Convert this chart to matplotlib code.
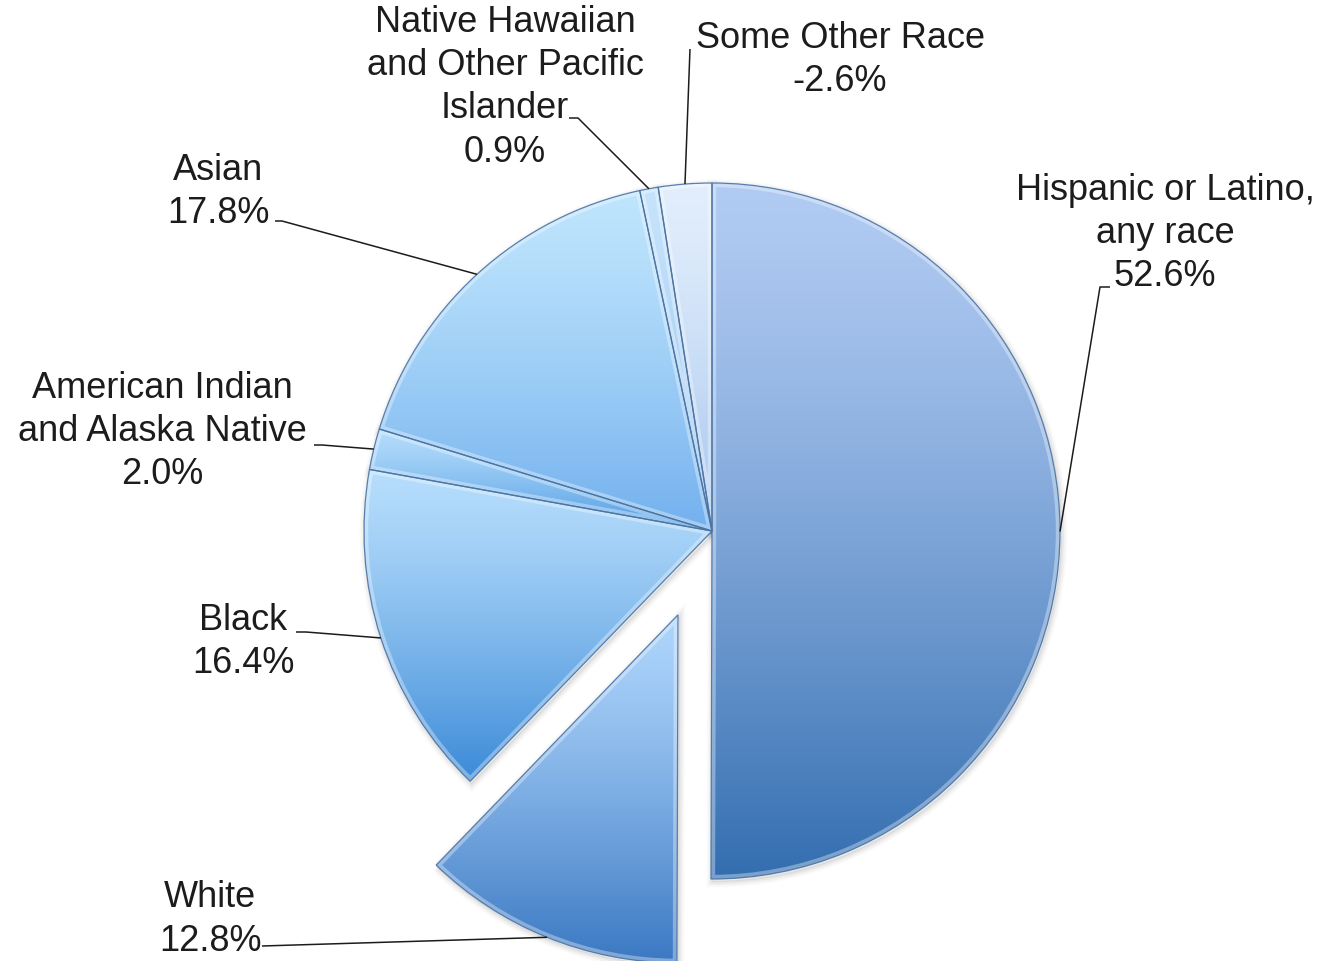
import numpy as np
import matplotlib
matplotlib.use("Agg")
import matplotlib.pyplot as plt
from matplotlib.colors import to_rgb
from matplotlib.patches import PathPatch
from matplotlib.transforms import Affine2D

# Percent change by race / ethnicity
categories = [
    "Hispanic or Latino,\nany race",
    "White",
    "Black",
    "American Indian\nand Alaska Native",
    "Asian",
    "Native Hawaiian\nand Other Pacific\nIslander",
    "Some Other Race",
]
percent = [52.6, 12.8, 16.4, 2.0, 17.8, 0.9, -2.6]
explode = [0, 0.26, 0, 0, 0, 0, 0]  # fraction of the radius

# Gradient end colours for each slice (top -> bottom)
top_colors = ["#b1cbf3", "#aed5fc", "#b6ddfc", "#b4dcfc", "#bfe5fd", "#c6e3fc", "#e2eefc"]
bottom_colors = ["#336eb0", "#3a78c2", "#3b8ad8", "#4c9ae2", "#72b0ee", "#8cbced", "#a6c6ee"]

W, H = 1321, 962
fig = plt.figure(figsize=(W / 100, H / 100), dpi=100)
ax = fig.add_axes([0, 0, 1, 1])

CX, CY, R = 712, H - 532, 348
sizes = np.abs(percent)
wedges, _ = ax.pie(sizes, explode=[e * R for e in explode], startangle=90,
                   counterclock=False, center=(CX, CY), radius=R,
                   wedgeprops=dict(facecolor="none", edgecolor="none"))

t = np.linspace(0, 1, 256)[:, None] ** 1.3
for w, c_top, c_bot in zip(wedges, top_colors, bottom_colors):
    path = w.get_path()
    bb = path.get_extents()
    # soft drop shadow
    for k, a in zip(range(4), [0.05, 0.04, 0.03, 0.02]):
        sh = PathPatch(path, facecolor="none", edgecolor="k", lw=1 + 2.5 * k, alpha=a,
                       transform=Affine2D().translate(1.5, -2.5) + ax.transData, zorder=0.5)
        ax.add_patch(sh)
    # vertical gradient fill clipped to the slice
    c0 = np.array(to_rgb(c_top))
    c1 = np.array(to_rgb(c_bot))
    img = (c0 * (1 - t) + c1 * t)[:, None, :]
    im = ax.imshow(img, extent=(bb.x0, bb.x1, bb.y0, bb.y1), origin="upper",
                   aspect="auto", interpolation="bilinear", zorder=2)
    im.set_clip_path(w)
    # bevel highlight along the inner edges
    hl = PathPatch(path, facecolor="none", edgecolor="white", lw=6, alpha=0.35, zorder=3)
    ax.add_patch(hl)
    hl.set_clip_path(w)
    ol = PathPatch(path, facecolor="none", edgecolor="#4a73a3", lw=0.9, alpha=0.9, zorder=4)
    ax.add_patch(ol)

# Label placement (first-line centre, pixel coordinates from top-left)
label_pos = [(1165, 190), (210, 898), (243, 620), (162, 388), (218, 170), (505, 22), (840, 38)]
leader_start = [
    [(1110, 288), (1100, 288)],
    [(262, 947)],
    [(296, 633), (306, 633)],
    [(314, 446), (322, 446)],
    [(275, 222), (282, 222)],
    [(569, 119), (578, 119)],
    [(690, 50)],
]
pitch = 43.5
font = dict(family=["Liberation Sans", "DejaVu Sans"], fontsize=26, color="#1c1c1c")

for w, name, val, (lx, ly), pts in zip(wedges, categories, percent, label_pos, leader_start):
    lines = name.split("\n") + [f"{val:.1f}%"]
    for i, line in enumerate(lines):
        ax.text(lx, H - (ly + i * pitch), line, ha="center", va="center", zorder=6, **font)
    ang = np.deg2rad((w.theta1 + w.theta2) / 2)
    ex = w.center[0] + w.r * np.cos(ang)
    ey = w.center[1] + w.r * np.sin(ang)
    xs = [p[0] for p in pts] + [ex]
    ys = [H - p[1] for p in pts] + [ey]
    ax.plot(xs, ys, color="#1c1c1c", lw=1.1, zorder=5, solid_capstyle="butt")

ax.set_xlim(0, W)
ax.set_ylim(0, H)
ax.set_aspect("equal")
ax.axis("off")
fig.savefig("out.png", dpi=100, facecolor="white")
